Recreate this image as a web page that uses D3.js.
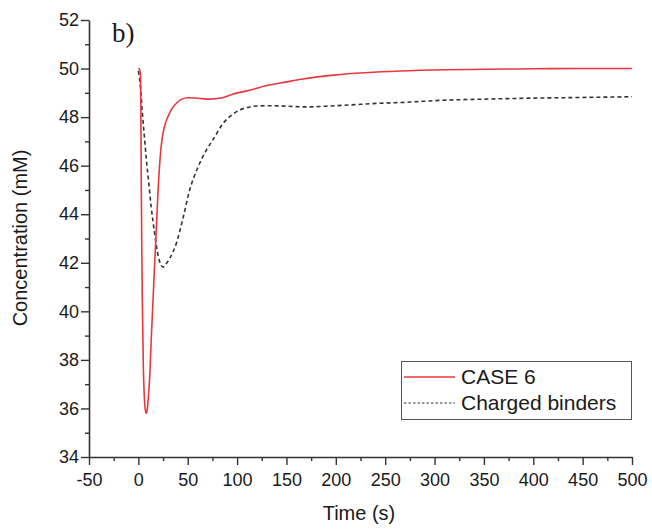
<!DOCTYPE html>
<html lang="en">
<head>
<meta charset="utf-8">
<script src="https://d3js.org/d3.v7.min.js"></script>
<style>
  body { margin: 0; background: #fff; }
  svg text { font-family: "Liberation Sans", Arial, sans-serif; fill: #1a1a1a; }
</style>
</head>
<body>
<script>
// data
var case6Time = [0, 1, 2, 2.5, 3, 3.5, 4, 5, 6, 7, 8, 9, 10, 11.5, 13, 15, 17, 18.5, 20, 22, 24, 27, 30, 34, 38.5, 44, 50, 60, 72, 85, 96, 110, 130, 150, 165, 200, 230, 265, 310, 350, 400, 450, 500];
var case6Conc = [50.0, 50.0, 49.8, 48.5, 45.0, 42.5, 40.5, 37.8, 36.5, 35.95, 35.8, 35.95, 36.4, 37.3, 38.8, 40.6, 42.4, 43.7, 45.0, 46.3, 47.1, 47.7, 48.02, 48.35, 48.57, 48.74, 48.8, 48.78, 48.74, 48.8, 48.95, 49.08, 49.3, 49.45, 49.56, 49.74, 49.83, 49.9, 49.95, 49.97, 49.99, 50.0, 50.0];

var chargedTime = [0, 2, 4, 6.4, 8, 10, 13, 16.5, 20, 23, 25, 28, 32, 38.5, 45, 52, 60, 69, 76, 86, 95, 103, 113, 120, 135, 150, 170, 190, 214, 244, 265, 312, 350, 397, 450, 500];
var chargedConc = [49.9, 49.3, 48.2, 47.06, 46.3, 45.5, 44.3, 43.2, 42.3, 41.9, 41.82, 41.95, 42.2, 42.8, 43.8, 45.0, 45.9, 46.65, 47.1, 47.75, 48.1, 48.3, 48.42, 48.46, 48.47, 48.45, 48.42, 48.45, 48.5, 48.57, 48.6, 48.7, 48.74, 48.78, 48.81, 48.84];

var xTicks = [-50, 0, 50, 100, 150, 200, 250, 300, 350, 400, 450, 500];
var yTicks = [34, 36, 38, 40, 42, 44, 46, 48, 50, 52];
var seriesNames = ["CASE 6", "Charged binders"];

var width = 652, height = 529;
var svg = d3.select("body").append("svg").attr("width", width).attr("height", height);

var x = d3.scaleLinear().domain([-50, 500]).range([89, 632]);
var y = d3.scaleLinear().domain([34, 52]).range([457, 20]);

// minor ticks halfway between majors
var xMinor = xTicks.slice(0, -1).map(function(d) { return d + 25; });
var yMinor = yTicks.slice(0, -1).map(function(d) { return d + 1; });

var axisColor = "#333";
var plain = function(d) { return String(d); };

var gx = svg.append("g").attr("transform", "translate(0," + y(34) + ")");
gx.call(d3.axisBottom(x).tickValues(xTicks).tickFormat(plain).tickSize(8).tickPadding(8).tickSizeOuter(0));
gx.append("g").call(d3.axisBottom(x).tickValues(xMinor).tickSize(4).tickFormat("").tickSizeOuter(0))
  .select(".domain").remove();

var gy = svg.append("g").attr("transform", "translate(" + x(-50) + ",0)");
gy.call(d3.axisLeft(y).tickValues(yTicks).tickFormat(plain).tickSize(8).tickPadding(2).tickSizeOuter(0));
gy.append("g").call(d3.axisLeft(y).tickValues(yMinor).tickSize(4).tickFormat("").tickSizeOuter(0))
  .select(".domain").remove();

svg.selectAll(".domain").attr("stroke", axisColor).attr("stroke-width", 1.6);
svg.selectAll(".tick line").attr("stroke", axisColor).attr("stroke-width", 1.4);
svg.selectAll(".tick text").attr("font-size", 18).attr("fill", "#1a1a1a")
  .style("font-family", "'Liberation Sans', Arial, sans-serif");

// axis titles
svg.append("text").attr("x", 359).attr("y", 520).attr("text-anchor", "middle")
  .attr("font-size", 20).text("Time (s)");
svg.append("text").attr("transform", "translate(27,238) rotate(-90)").attr("text-anchor", "middle")
  .attr("font-size", 20).text("Concentration (mM)");

// panel label
svg.append("text").attr("x", 112).attr("y", 42)
  .style("font-family", "'Liberation Serif', 'Times New Roman', serif")
  .attr("font-size", 27).text("b)");

var line = d3.line()
  .x(function(d) { return x(d[0]); })
  .y(function(d) { return y(d[1]); })
  .curve(d3.curveMonotoneX);

var chargedPts = chargedTime.map(function(t, i) { return [t, chargedConc[i]]; });
var case6Pts = case6Time.map(function(t, i) { return [t, case6Conc[i]]; });

svg.append("path").datum(chargedPts).attr("d", line)
  .attr("fill", "none").attr("stroke", "#333").attr("stroke-width", 1.6)
  .attr("stroke-dasharray", "4,3");

svg.append("path").datum(case6Pts).attr("d", line)
  .attr("fill", "none").attr("stroke", "#e8383d").attr("stroke-width", 1.6);

// legend
var lg = svg.append("g");
lg.append("rect").attr("x", 401.5).attr("y", 361.5).attr("width", 230).attr("height", 58)
  .attr("fill", "#fff").attr("stroke", "#555").attr("stroke-width", 1);
var styles = [{stroke: "#e8383d", dash: null, w: 1.6}, {stroke: "#333", dash: "2.5,2", w: 1.2}];
seriesNames.forEach(function(name, i) {
  var cy = 377 + i * 26;
  lg.append("line").attr("x1", 404).attr("x2", 455).attr("y1", cy).attr("y2", cy)
    .attr("stroke", styles[i].stroke).attr("stroke-width", styles[i].w)
    .attr("stroke-dasharray", styles[i].dash);
  lg.append("text").attr("x", 461).attr("y", cy + 7).attr("font-size", 21).text(name);
});
</script>
</body>
</html>
